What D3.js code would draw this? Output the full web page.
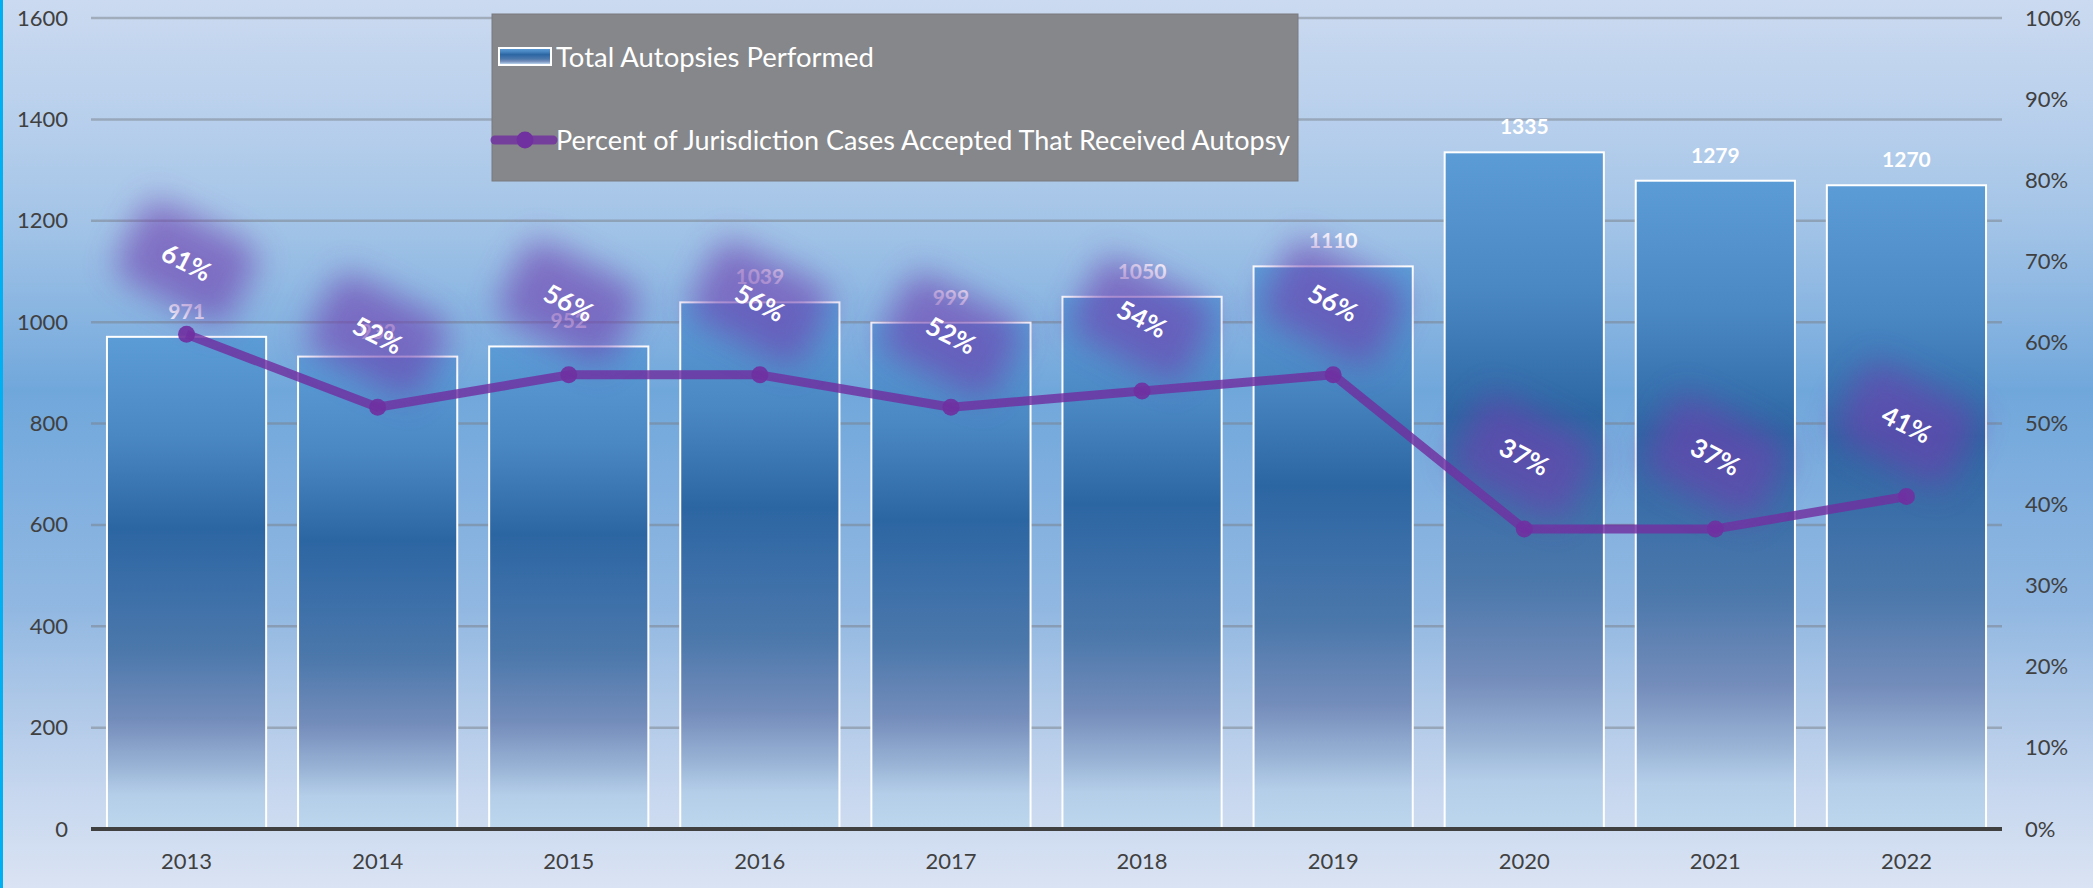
<!DOCTYPE html>
<html>
<head>
<meta charset="utf-8">
<script src="https://cdn.jsdelivr.net/npm/d3@7"></script>
<style>
  html, body { margin: 0; padding: 0; background: #dae3f3; }
  svg { display: block; font-family: Lato, "Noto Sans", sans-serif; }
</style>
</head>
<body>
<div id="chart"></div>
<script>
// data
var years = ["2013", "2014", "2015", "2016", "2017", "2018", "2019", "2020", "2021", "2022"];
var autopsies = [971, 932, 952, 1039, 999, 1050, 1110, 1335, 1279, 1270];
var pctAutopsy = [0.61, 0.52, 0.56, 0.56, 0.52, 0.54, 0.56, 0.37, 0.37, 0.41];
var countTicks = [0, 200, 400, 600, 800, 1000, 1200, 1400, 1600];
var pctTicks = [0, 0.1, 0.2, 0.3, 0.4, 0.5, 0.6, 0.7, 0.8, 0.9, 1];
var barName = "Total Autopsies Performed";
var lineName = "Percent of Jurisdiction Cases Accepted That Received Autopsy";

var W = 2093, H = 888;
var margin = {top: 18, right: 91, bottom: 59, left: 91};
var plotL = margin.left, plotR = W - margin.right, plotT = margin.top, plotB = H - margin.bottom;

var svg = d3.select("#chart").append("svg")
    .attr("width", W)
    .attr("height", H);

var defs = svg.append("defs");

// background gradient
var bg = defs.append("linearGradient").attr("id", "bg")
    .attr("x1", 0).attr("y1", 0).attr("x2", 0).attr("y2", 1);
[[0, "#cbdaf0"], [0.14, "#b7cfec"], [0.25, "#a3c4e7"], [0.37, "#84b2e0"], [0.44, "#70a7db"],
 [0.55, "#80afdf"], [0.68, "#90b7e1"], [0.8, "#b0c9e8"], [0.9, "#c8d8ef"], [1, "#dae3f3"]]
  .forEach(function(s) { bg.append("stop").attr("offset", s[0]).attr("stop-color", s[1]); });

// bar gradient
var bar = defs.append("linearGradient").attr("id", "barGrad")
    .attr("x1", 0).attr("y1", 0).attr("x2", 0).attr("y2", 1);
[[0, "#5c9cd6"], [0.2, "#4a88c4"], [0.39, "#2c66a2"], [0.5, "#3a6ea8"], [0.64, "#4c78ab"],
 [0.78, "#748dbb"], [0.87, "#98b2d5"], [0.93, "#b4cee9"], [1, "#bdd7ee"]]
  .forEach(function(s) { bar.append("stop").attr("offset", s[0]).attr("stop-color", s[1]); });

// blur for the label glow
defs.append("filter").attr("id", "glow")
    .attr("x", "-80%").attr("y", "-80%").attr("width", "260%").attr("height", "260%")
  .append("feGaussianBlur").attr("stdDeviation", 16);

svg.append("rect").attr("width", W).attr("height", H).attr("fill", "url(#bg)");
svg.append("rect").attr("x", 0).attr("y", 0).attr("width", 3).attr("height", H).attr("fill", "#00b0f0");

// scales
var x = d3.scaleBand()
    .domain(years)
    .range([plotL, plotR])
    .paddingInner(0.167)
    .paddingOuter(0.0835);

var y = d3.scaleLinear().domain([0, 1600]).range([plotB, plotT]);
var y2 = d3.scaleLinear().domain([0, 1]).range([plotB, plotT]);

// gridlines
svg.append("g")
  .selectAll("line")
  .data(countTicks.slice(1))
  .enter()
  .append("line")
    .attr("x1", plotL).attr("x2", plotR)
    .attr("y1", function(d) { return y(d); })
    .attr("y2", function(d) { return y(d); })
    .attr("stroke", "#7a7f88")
    .attr("stroke-opacity", 0.5)
    .attr("stroke-width", 2.5);

// axes
var axisFont = function(g) {
  g.attr("font-family", null).attr("font-size", null);
  g.select(".domain").remove();
  g.selectAll("text").attr("fill", "#404040").style("font-size", "22px");
};

svg.append("g")
  .attr("transform", "translate(" + plotL + ",0)")
  .call(d3.axisLeft(y).tickValues(countTicks).tickSize(0).tickPadding(23).tickFormat(d3.format("d")))
  .call(axisFont);

svg.append("g")
  .attr("transform", "translate(" + plotR + ",0)")
  .call(d3.axisRight(y2).tickValues(pctTicks).tickSize(0).tickPadding(23).tickFormat(d3.format(".0%")))
  .call(axisFont);

svg.append("g")
  .attr("transform", "translate(0," + plotB + ")")
  .call(d3.axisBottom(x).tickSize(0).tickPadding(24))
  .call(axisFont);

// bars
svg.append("g")
  .selectAll("rect")
  .data(autopsies)
  .enter()
  .append("rect")
    .attr("x", function(d, i) { return x(years[i]); })
    .attr("y", function(d) { return y(d); })
    .attr("width", x.bandwidth())
    .attr("height", function(d) { return y(0) - y(d); })
    .attr("fill", "url(#barGrad)")
    .attr("stroke", "#ffffff")
    .attr("stroke-width", 2);

// bar value labels
svg.append("g")
  .selectAll("text")
  .data(autopsies)
  .enter()
  .append("text")
    .attr("x", function(d, i) { return x(years[i]) + x.bandwidth() / 2; })
    .attr("y", function(d) { return y(d) - 18; })
    .attr("text-anchor", "middle")
    .attr("fill", "#ffffff")
    .style("font-size", "21px")
    .style("font-weight", "bold")
    .text(function(d) { return d; });

// baseline
svg.append("line")
  .attr("x1", plotL).attr("x2", plotR)
  .attr("y1", plotB).attr("y2", plotB)
  .attr("stroke", "#404040")
  .attr("stroke-width", 4);

// percent line
var cx = function(i) { return x(years[i]) + x.bandwidth() / 2; };
var line = d3.line()
  .x(function(d, i) { return cx(i); })
  .y(function(d) { return y2(d); });

svg.append("path")
  .datum(pctAutopsy)
  .attr("d", line)
  .attr("fill", "none")
  .attr("stroke", "#7030a0")
  .attr("stroke-opacity", 0.82)
  .attr("stroke-width", 9)
  .attr("stroke-linejoin", "round");

svg.append("g")
  .selectAll("circle")
  .data(pctAutopsy)
  .enter()
  .append("circle")
    .attr("cx", function(d, i) { return cx(i); })
    .attr("cy", function(d) { return y2(d); })
    .attr("r", 8.5)
    .attr("fill", "#7030a0")
    .attr("fill-opacity", 0.92);

// percent labels with purple glow
var labels = svg.append("g")
  .selectAll("g")
  .data(pctAutopsy)
  .enter()
  .append("g")
    .attr("transform", function(d, i) {
      return "translate(" + cx(i) + "," + (y2(d) - 72) + ") rotate(27)";
    });

labels.append("rect")
  .attr("x", -64).attr("y", -44)
  .attr("width", 128).attr("height", 88)
  .attr("rx", 20)
  .attr("fill", "#7040b0")
  .attr("opacity", 0.62)
  .attr("filter", "url(#glow)");

labels.append("text")
  .attr("text-anchor", "middle")
  .attr("dy", "0.36em")
  .attr("fill", "#ffffff")
  .style("font-size", "26px")
  .style("font-weight", "bold")
  .text(function(d) { return d3.format(".0%")(d); });

// legend
var legend = svg.append("g");
legend.append("rect")
  .attr("x", 492).attr("y", 14)
  .attr("width", 806).attr("height", 167)
  .attr("fill", "#86878a")
  .attr("stroke", "#7a7b7e");

legend.append("rect")
  .attr("x", 499).attr("y", 48)
  .attr("width", 52).attr("height", 17)
  .attr("fill", "url(#barGrad)")
  .attr("stroke", "#ffffff")
  .attr("stroke-width", 2);

legend.append("text")
  .attr("x", 556).attr("y", 57)
  .attr("dy", "0.36em")
  .attr("fill", "#ffffff")
  .attr("textLength", 318)
  .attr("lengthAdjust", "spacingAndGlyphs")
  .style("font-size", "27px")
  .text(barName);

legend.append("line")
  .attr("x1", 495).attr("x2", 553)
  .attr("y1", 140).attr("y2", 140)
  .attr("stroke", "#7030a0")
  .attr("stroke-opacity", 0.82)
  .attr("stroke-width", 9)
  .attr("stroke-linecap", "round");

legend.append("circle")
  .attr("cx", 525).attr("cy", 140).attr("r", 8.5)
  .attr("fill", "#7030a0");

legend.append("text")
  .attr("x", 556).attr("y", 140)
  .attr("dy", "0.36em")
  .attr("fill", "#ffffff")
  .attr("textLength", 734)
  .attr("lengthAdjust", "spacingAndGlyphs")
  .style("font-size", "27px")
  .text(lineName);
</script>
</body>
</html>
